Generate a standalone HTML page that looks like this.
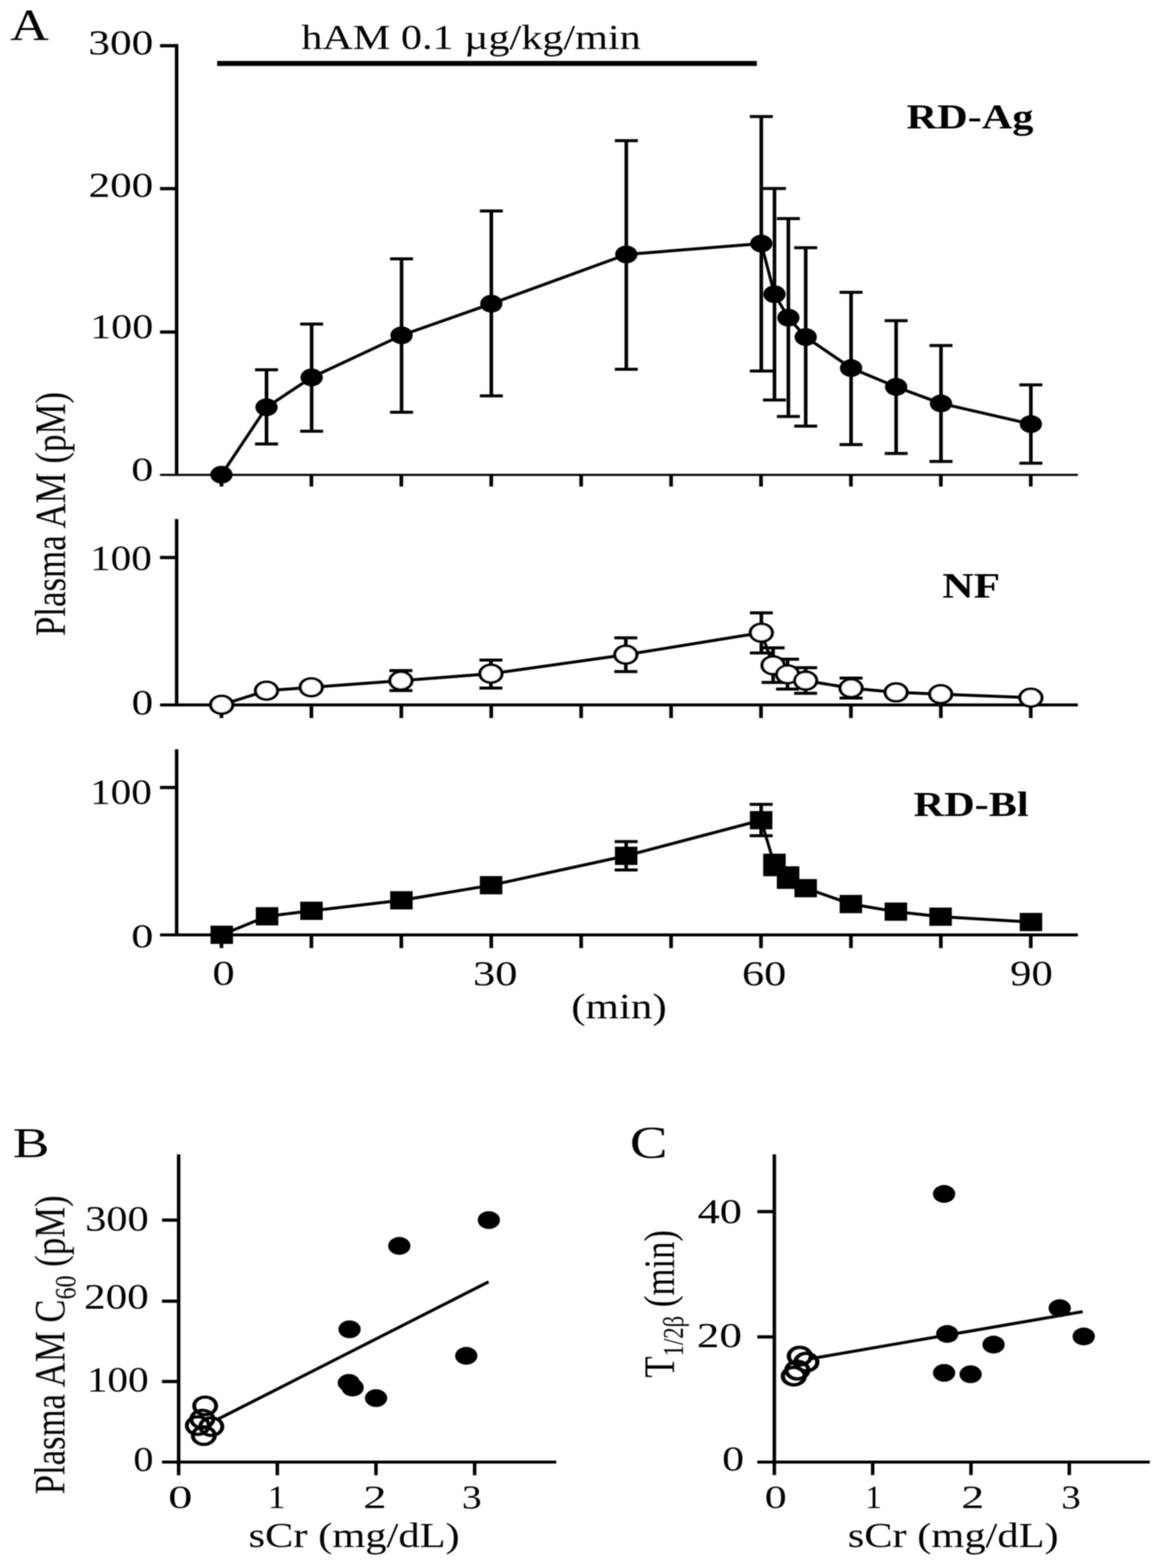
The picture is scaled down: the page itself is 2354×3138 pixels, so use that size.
<!DOCTYPE html>
<html><head><meta charset="utf-8"><title>Figure</title>
<style>
html,body{margin:0;padding:0;background:#fff;}
svg{display:block;}
text{font-family:"Liberation Serif","Times New Roman",serif;fill:#000;}
</style></head><body>
<svg width="2354" height="3138" viewBox="0 0 2354 3138">
<rect width="2354" height="3138" fill="#fff"/>
<defs><filter id="soft" filterUnits="userSpaceOnUse" x="0" y="0" width="2354" height="3138"><feGaussianBlur stdDeviation="1.0"/></filter></defs>
<g filter="url(#soft)">
<g stroke="#000" fill="#000" stroke-linecap="butt">
<line x1="434.7" y1="127.0" x2="1515.0" y2="127.0" stroke-width="10.2"/>
<line x1="353.5" y1="88.3" x2="353.5" y2="950.5" stroke-width="7.0"/>
<line x1="320.3" y1="91.6" x2="353.5" y2="91.6" stroke-width="6.5"/>
<line x1="320.3" y1="377.5" x2="353.5" y2="377.5" stroke-width="6.5"/>
<line x1="320.3" y1="664.6" x2="353.5" y2="664.6" stroke-width="6.5"/>
<line x1="320.3" y1="950.4" x2="2157.6" y2="950.4" stroke-width="4.4"/>
<line x1="443.3" y1="950.5" x2="443.3" y2="973.7" stroke-width="7.3"/>
<line x1="623.3" y1="950.5" x2="623.3" y2="973.7" stroke-width="7.3"/>
<line x1="803.3" y1="950.5" x2="803.3" y2="973.7" stroke-width="7.3"/>
<line x1="983.3" y1="950.5" x2="983.3" y2="973.7" stroke-width="7.3"/>
<line x1="1163.3" y1="950.5" x2="1163.3" y2="973.7" stroke-width="7.3"/>
<line x1="1343.3" y1="950.5" x2="1343.3" y2="973.7" stroke-width="7.3"/>
<line x1="1523.3" y1="950.5" x2="1523.3" y2="973.7" stroke-width="7.3"/>
<line x1="1703.3" y1="950.5" x2="1703.3" y2="973.7" stroke-width="7.3"/>
<line x1="1883.3" y1="950.5" x2="1883.3" y2="973.7" stroke-width="7.3"/>
<line x1="2063.3" y1="950.5" x2="2063.3" y2="973.7" stroke-width="7.3"/>
<line x1="533.5" y1="740.0" x2="533.5" y2="888.4" stroke-width="7.2"/>
<line x1="510.5" y1="740.0" x2="556.5" y2="740.0" stroke-width="6"/>
<line x1="510.5" y1="888.4" x2="556.5" y2="888.4" stroke-width="6"/>
<line x1="623.8" y1="648.4" x2="623.8" y2="863.1" stroke-width="7.2"/>
<line x1="600.8" y1="648.4" x2="646.8" y2="648.4" stroke-width="6"/>
<line x1="600.8" y1="863.1" x2="646.8" y2="863.1" stroke-width="6"/>
<line x1="803.8" y1="518.0" x2="803.8" y2="825.1" stroke-width="7.2"/>
<line x1="780.8" y1="518.0" x2="826.8" y2="518.0" stroke-width="6"/>
<line x1="780.8" y1="825.1" x2="826.8" y2="825.1" stroke-width="6"/>
<line x1="983.5" y1="422.2" x2="983.5" y2="792.2" stroke-width="7.2"/>
<line x1="960.5" y1="422.2" x2="1006.5" y2="422.2" stroke-width="6"/>
<line x1="960.5" y1="792.2" x2="1006.5" y2="792.2" stroke-width="6"/>
<line x1="1253.7" y1="281.4" x2="1253.7" y2="738.9" stroke-width="7.2"/>
<line x1="1230.7" y1="281.4" x2="1276.7" y2="281.4" stroke-width="6"/>
<line x1="1230.7" y1="738.9" x2="1276.7" y2="738.9" stroke-width="6"/>
<line x1="1523.9" y1="233.3" x2="1523.9" y2="742.5" stroke-width="7.2"/>
<line x1="1500.9" y1="233.3" x2="1546.9" y2="233.3" stroke-width="6"/>
<line x1="1500.9" y1="742.5" x2="1546.9" y2="742.5" stroke-width="6"/>
<line x1="1550.3" y1="377.2" x2="1550.3" y2="800.4" stroke-width="7.2"/>
<line x1="1527.3" y1="377.2" x2="1573.3" y2="377.2" stroke-width="6"/>
<line x1="1527.3" y1="800.4" x2="1573.3" y2="800.4" stroke-width="6"/>
<line x1="1578.1" y1="437.6" x2="1578.1" y2="833.6" stroke-width="7.2"/>
<line x1="1555.1" y1="437.6" x2="1601.1" y2="437.6" stroke-width="6"/>
<line x1="1555.1" y1="833.6" x2="1601.1" y2="833.6" stroke-width="6"/>
<line x1="1612.8" y1="495.8" x2="1612.8" y2="852.8" stroke-width="7.2"/>
<line x1="1589.8" y1="495.8" x2="1635.8" y2="495.8" stroke-width="6"/>
<line x1="1589.8" y1="852.8" x2="1635.8" y2="852.8" stroke-width="6"/>
<line x1="1703.6" y1="585.0" x2="1703.6" y2="889.7" stroke-width="7.2"/>
<line x1="1680.6" y1="585.0" x2="1726.6" y2="585.0" stroke-width="6"/>
<line x1="1680.6" y1="889.7" x2="1726.6" y2="889.7" stroke-width="6"/>
<line x1="1793.8" y1="641.7" x2="1793.8" y2="907.5" stroke-width="7.2"/>
<line x1="1770.8" y1="641.7" x2="1816.8" y2="641.7" stroke-width="6"/>
<line x1="1770.8" y1="907.5" x2="1816.8" y2="907.5" stroke-width="6"/>
<line x1="1883.6" y1="691.4" x2="1883.6" y2="923.4" stroke-width="7.2"/>
<line x1="1860.6" y1="691.4" x2="1906.6" y2="691.4" stroke-width="6"/>
<line x1="1860.6" y1="923.4" x2="1906.6" y2="923.4" stroke-width="6"/>
<line x1="2063.5" y1="770.3" x2="2063.5" y2="927.1" stroke-width="7.2"/>
<line x1="2040.5" y1="770.3" x2="2086.5" y2="770.3" stroke-width="6"/>
<line x1="2040.5" y1="927.1" x2="2086.5" y2="927.1" stroke-width="6"/>
<polyline points="443.3,950.0 533.5,815.0 623.8,755.3 803.8,671.1 983.5,607.8 1253.7,509.2 1523.9,487.5 1550.3,588.8 1578.1,635.8 1612.8,674.5 1703.6,736.6 1793.8,774.3 1883.6,807.4 2063.5,848.7" fill="none" stroke-width="6.0" stroke-linejoin="round"/>
<ellipse cx="443.3" cy="950.0" rx="22.3" ry="17.8" stroke="none"/>
<ellipse cx="533.5" cy="815.0" rx="22.3" ry="17.8" stroke="none"/>
<ellipse cx="623.8" cy="755.3" rx="22.3" ry="17.8" stroke="none"/>
<ellipse cx="803.8" cy="671.1" rx="22.3" ry="17.8" stroke="none"/>
<ellipse cx="983.5" cy="607.8" rx="22.3" ry="17.8" stroke="none"/>
<ellipse cx="1253.7" cy="509.2" rx="22.3" ry="17.8" stroke="none"/>
<ellipse cx="1523.9" cy="487.5" rx="22.3" ry="17.8" stroke="none"/>
<ellipse cx="1550.3" cy="588.8" rx="22.3" ry="17.8" stroke="none"/>
<ellipse cx="1578.1" cy="635.8" rx="22.3" ry="17.8" stroke="none"/>
<ellipse cx="1612.8" cy="674.5" rx="22.3" ry="17.8" stroke="none"/>
<ellipse cx="1703.6" cy="736.6" rx="22.3" ry="17.8" stroke="none"/>
<ellipse cx="1793.8" cy="774.3" rx="22.3" ry="17.8" stroke="none"/>
<ellipse cx="1883.6" cy="807.4" rx="22.3" ry="17.8" stroke="none"/>
<ellipse cx="2063.5" cy="848.7" rx="22.3" ry="17.8" stroke="none"/>
<line x1="353.6" y1="1038.7" x2="353.6" y2="1410.7" stroke-width="7.0"/>
<line x1="320.3" y1="1115.7" x2="353.6" y2="1115.7" stroke-width="6.5"/>
<line x1="320.3" y1="1410.7" x2="2157.6" y2="1410.7" stroke-width="6.0"/>
<line x1="443.3" y1="1410.7" x2="443.3" y2="1437.0" stroke-width="7.3"/>
<line x1="623.3" y1="1410.7" x2="623.3" y2="1437.0" stroke-width="7.3"/>
<line x1="803.3" y1="1410.7" x2="803.3" y2="1437.0" stroke-width="7.3"/>
<line x1="983.3" y1="1410.7" x2="983.3" y2="1437.0" stroke-width="7.3"/>
<line x1="1163.3" y1="1410.7" x2="1163.3" y2="1437.0" stroke-width="7.3"/>
<line x1="1343.3" y1="1410.7" x2="1343.3" y2="1437.0" stroke-width="7.3"/>
<line x1="1523.3" y1="1410.7" x2="1523.3" y2="1437.0" stroke-width="7.3"/>
<line x1="1703.3" y1="1410.7" x2="1703.3" y2="1437.0" stroke-width="7.3"/>
<line x1="1883.3" y1="1410.7" x2="1883.3" y2="1437.0" stroke-width="7.3"/>
<line x1="2063.3" y1="1410.7" x2="2063.3" y2="1437.0" stroke-width="7.3"/>
<line x1="802.5" y1="1342.0" x2="802.5" y2="1382.0" stroke-width="7.2"/>
<line x1="779.5" y1="1342.0" x2="825.5" y2="1342.0" stroke-width="6"/>
<line x1="779.5" y1="1382.0" x2="825.5" y2="1382.0" stroke-width="6"/>
<line x1="982.7" y1="1320.9" x2="982.7" y2="1377.0" stroke-width="7.2"/>
<line x1="959.7" y1="1320.9" x2="1005.7" y2="1320.9" stroke-width="6"/>
<line x1="959.7" y1="1377.0" x2="1005.7" y2="1377.0" stroke-width="6"/>
<line x1="1252.7" y1="1276.6" x2="1252.7" y2="1344.1" stroke-width="7.2"/>
<line x1="1229.7" y1="1276.6" x2="1275.7" y2="1276.6" stroke-width="6"/>
<line x1="1229.7" y1="1344.1" x2="1275.7" y2="1344.1" stroke-width="6"/>
<line x1="1524.0" y1="1226.5" x2="1524.0" y2="1306.7" stroke-width="7.2"/>
<line x1="1501.0" y1="1226.5" x2="1547.0" y2="1226.5" stroke-width="6"/>
<line x1="1501.0" y1="1306.7" x2="1547.0" y2="1306.7" stroke-width="6"/>
<line x1="1547.5" y1="1296.4" x2="1547.5" y2="1365.8" stroke-width="7.2"/>
<line x1="1524.5" y1="1296.4" x2="1570.5" y2="1296.4" stroke-width="6"/>
<line x1="1524.5" y1="1365.8" x2="1570.5" y2="1365.8" stroke-width="6"/>
<line x1="1576.4" y1="1319.3" x2="1576.4" y2="1379.0" stroke-width="7.2"/>
<line x1="1553.4" y1="1319.3" x2="1599.4" y2="1319.3" stroke-width="6"/>
<line x1="1553.4" y1="1379.0" x2="1599.4" y2="1379.0" stroke-width="6"/>
<line x1="1612.6" y1="1336.2" x2="1612.6" y2="1387.5" stroke-width="7.2"/>
<line x1="1589.6" y1="1336.2" x2="1635.6" y2="1336.2" stroke-width="6"/>
<line x1="1589.6" y1="1387.5" x2="1635.6" y2="1387.5" stroke-width="6"/>
<line x1="1703.6" y1="1357.0" x2="1703.6" y2="1397.1" stroke-width="7.2"/>
<line x1="1680.6" y1="1357.0" x2="1726.6" y2="1357.0" stroke-width="6"/>
<line x1="1680.6" y1="1397.1" x2="1726.6" y2="1397.1" stroke-width="6"/>
<polyline points="443.7,1410.5 533.4,1382.3 623.0,1375.4 802.5,1362.2 982.7,1348.3 1252.7,1310.3 1524.0,1266.3 1547.5,1331.4 1576.4,1349.5 1612.6,1362.1 1703.6,1377.2 1793.8,1385.6 1883.0,1389.2 2063.5,1396.2" fill="none" stroke-width="6.0" stroke-linejoin="round"/>
<ellipse transform="translate(443.7,1410.5) scale(1.25,1)" rx="17.6" ry="17.6" fill="#fff" stroke-width="5.3"/>
<ellipse transform="translate(533.4,1382.3) scale(1.25,1)" rx="17.6" ry="17.6" fill="#fff" stroke-width="5.3"/>
<ellipse transform="translate(623.0,1375.4) scale(1.25,1)" rx="17.6" ry="17.6" fill="#fff" stroke-width="5.3"/>
<ellipse transform="translate(802.5,1362.2) scale(1.25,1)" rx="17.6" ry="17.6" fill="#fff" stroke-width="5.3"/>
<ellipse transform="translate(982.7,1348.3) scale(1.25,1)" rx="17.6" ry="17.6" fill="#fff" stroke-width="5.3"/>
<ellipse transform="translate(1252.7,1310.3) scale(1.25,1)" rx="17.6" ry="17.6" fill="#fff" stroke-width="5.3"/>
<ellipse transform="translate(1524.0,1266.3) scale(1.25,1)" rx="17.6" ry="17.6" fill="#fff" stroke-width="5.3"/>
<ellipse transform="translate(1547.5,1331.4) scale(1.25,1)" rx="17.6" ry="17.6" fill="#fff" stroke-width="5.3"/>
<ellipse transform="translate(1576.4,1349.5) scale(1.25,1)" rx="17.6" ry="17.6" fill="#fff" stroke-width="5.3"/>
<ellipse transform="translate(1612.6,1362.1) scale(1.25,1)" rx="17.6" ry="17.6" fill="#fff" stroke-width="5.3"/>
<ellipse transform="translate(1703.6,1377.2) scale(1.25,1)" rx="17.6" ry="17.6" fill="#fff" stroke-width="5.3"/>
<ellipse transform="translate(1793.8,1385.6) scale(1.25,1)" rx="17.6" ry="17.6" fill="#fff" stroke-width="5.3"/>
<ellipse transform="translate(1883.0,1389.2) scale(1.25,1)" rx="17.6" ry="17.6" fill="#fff" stroke-width="5.3"/>
<ellipse transform="translate(2063.5,1396.2) scale(1.25,1)" rx="17.6" ry="17.6" fill="#fff" stroke-width="5.3"/>
<line x1="353.6" y1="1499.5" x2="353.6" y2="1871.0" stroke-width="7.0"/>
<line x1="320.3" y1="1575.9" x2="353.6" y2="1575.9" stroke-width="6.5"/>
<line x1="320.3" y1="1871.0" x2="2157.6" y2="1871.0" stroke-width="6.0"/>
<line x1="443.3" y1="1871.0" x2="443.3" y2="1897.4" stroke-width="7.3"/>
<line x1="623.3" y1="1871.0" x2="623.3" y2="1897.4" stroke-width="7.3"/>
<line x1="803.3" y1="1871.0" x2="803.3" y2="1897.4" stroke-width="7.3"/>
<line x1="983.3" y1="1871.0" x2="983.3" y2="1897.4" stroke-width="7.3"/>
<line x1="1163.3" y1="1871.0" x2="1163.3" y2="1897.4" stroke-width="7.3"/>
<line x1="1343.3" y1="1871.0" x2="1343.3" y2="1897.4" stroke-width="7.3"/>
<line x1="1523.3" y1="1871.0" x2="1523.3" y2="1897.4" stroke-width="7.3"/>
<line x1="1703.3" y1="1871.0" x2="1703.3" y2="1897.4" stroke-width="7.3"/>
<line x1="1883.3" y1="1871.0" x2="1883.3" y2="1897.4" stroke-width="7.3"/>
<line x1="2063.3" y1="1871.0" x2="2063.3" y2="1897.4" stroke-width="7.3"/>
<line x1="1253.4" y1="1684.2" x2="1253.4" y2="1741.1" stroke-width="7.2"/>
<line x1="1230.4" y1="1684.2" x2="1276.4" y2="1684.2" stroke-width="6"/>
<line x1="1230.4" y1="1741.1" x2="1276.4" y2="1741.1" stroke-width="6"/>
<line x1="1523.6" y1="1609.8" x2="1523.6" y2="1672.6" stroke-width="7.2"/>
<line x1="1500.6" y1="1609.8" x2="1546.6" y2="1609.8" stroke-width="6"/>
<line x1="1500.6" y1="1672.6" x2="1546.6" y2="1672.6" stroke-width="6"/>
<polyline points="443.9,1870.8 534.6,1833.7 623.5,1822.8 803.5,1801.7 983.0,1771.6 1253.4,1712.7 1523.6,1641.5 1550.2,1731.0 1577.5,1756.3 1612.7,1777.5 1703.2,1809.2 1793.3,1824.4 1882.8,1834.6 2063.7,1845.2" fill="none" stroke-width="6.0" stroke-linejoin="round"/>
<rect x="421.4" y="1852.5" width="45" height="36.5" stroke="none"/>
<rect x="512.1" y="1815.5" width="45" height="36.5" stroke="none"/>
<rect x="601.0" y="1804.5" width="45" height="36.5" stroke="none"/>
<rect x="781.0" y="1783.5" width="45" height="36.5" stroke="none"/>
<rect x="960.5" y="1753.3" width="45" height="36.5" stroke="none"/>
<rect x="1230.9" y="1694.5" width="45" height="36.5" stroke="none"/>
<rect x="1501.1" y="1623.2" width="45" height="36.5" stroke="none"/>
<rect x="1527.7" y="1708.4" width="45" height="45.2" stroke="none"/>
<rect x="1555.0" y="1733.7" width="45" height="45.2" stroke="none"/>
<rect x="1590.2" y="1759.2" width="45" height="36.5" stroke="none"/>
<rect x="1680.7" y="1791.0" width="45" height="36.5" stroke="none"/>
<rect x="1770.8" y="1806.2" width="45" height="36.5" stroke="none"/>
<rect x="1860.3" y="1816.3" width="45" height="36.5" stroke="none"/>
<rect x="2041.2" y="1827.0" width="45" height="36.5" stroke="none"/>
<line x1="357.6" y1="2310.2" x2="357.6" y2="2952.5" stroke-width="7.0"/>
<line x1="324.3" y1="2441.7" x2="357.6" y2="2441.7" stroke-width="6.5"/>
<line x1="324.3" y1="2603.9" x2="357.6" y2="2603.9" stroke-width="6.5"/>
<line x1="324.3" y1="2764.7" x2="357.6" y2="2764.7" stroke-width="6.5"/>
<line x1="324.3" y1="2926.0" x2="1113.4" y2="2926.0" stroke-width="6.0"/>
<line x1="555.1" y1="2926.0" x2="555.1" y2="2952.5" stroke-width="7.0"/>
<line x1="752.6" y1="2926.0" x2="752.6" y2="2952.5" stroke-width="7.0"/>
<line x1="950.1" y1="2926.0" x2="950.1" y2="2952.5" stroke-width="7.0"/>
<line x1="434.0" y1="2841.3" x2="978.0" y2="2565.3" stroke-width="6.0"/>
<ellipse cx="978.5" cy="2441.7" rx="22.3" ry="17.8" stroke="none"/>
<ellipse cx="799.3" cy="2493.4" rx="22.3" ry="17.8" stroke="none"/>
<ellipse cx="699.7" cy="2660.3" rx="22.3" ry="17.8" stroke="none"/>
<ellipse cx="933.3" cy="2713.4" rx="22.3" ry="17.8" stroke="none"/>
<ellipse cx="698.3" cy="2767.5" rx="22.3" ry="17.8" stroke="none"/>
<ellipse cx="705.8" cy="2776.9" rx="22.3" ry="17.8" stroke="none"/>
<ellipse cx="752.8" cy="2798.0" rx="22.3" ry="17.8" stroke="none"/>
<ellipse transform="translate(410.7,2813.5) scale(1.25,1)" rx="17.6" ry="17.6" fill="none" stroke-width="6.3"/>
<ellipse transform="translate(405.0,2840.0) scale(1.25,1)" rx="17.6" ry="17.6" fill="none" stroke-width="6.3"/>
<ellipse transform="translate(396.0,2853.0) scale(1.25,1)" rx="17.6" ry="17.6" fill="none" stroke-width="6.3"/>
<ellipse transform="translate(423.0,2855.0) scale(1.25,1)" rx="17.6" ry="17.6" fill="none" stroke-width="6.3"/>
<ellipse transform="translate(408.0,2873.0) scale(1.25,1)" rx="17.6" ry="17.6" fill="none" stroke-width="6.3"/>
<line x1="1550.0" y1="2310.2" x2="1550.0" y2="2952.0" stroke-width="7.0"/>
<line x1="1516.0" y1="2424.8" x2="1550.0" y2="2424.8" stroke-width="6.5"/>
<line x1="1516.0" y1="2675.5" x2="1550.0" y2="2675.5" stroke-width="6.5"/>
<line x1="1516.0" y1="2926.0" x2="2301.6" y2="2926.0" stroke-width="6.0"/>
<line x1="1746.8" y1="2926.0" x2="1746.8" y2="2952.0" stroke-width="7.0"/>
<line x1="1943.6" y1="2926.0" x2="1943.6" y2="2952.0" stroke-width="7.0"/>
<line x1="2140.4" y1="2926.0" x2="2140.4" y2="2952.0" stroke-width="7.0"/>
<line x1="1622.3" y1="2719.2" x2="2167.2" y2="2625.0" stroke-width="6.0"/>
<ellipse cx="1889.8" cy="2389.4" rx="22.3" ry="17.8" stroke="none"/>
<ellipse cx="2121.2" cy="2618.0" rx="22.3" ry="17.8" stroke="none"/>
<ellipse cx="1896.1" cy="2669.6" rx="22.3" ry="17.8" stroke="none"/>
<ellipse cx="2169.3" cy="2674.6" rx="22.3" ry="17.8" stroke="none"/>
<ellipse cx="1988.8" cy="2690.9" rx="22.3" ry="17.8" stroke="none"/>
<ellipse cx="1889.8" cy="2747.5" rx="22.3" ry="17.8" stroke="none"/>
<ellipse cx="1942.9" cy="2750.3" rx="22.3" ry="17.8" stroke="none"/>
<ellipse transform="translate(1601.0,2714.0) scale(1.25,1)" rx="17.6" ry="17.6" fill="none" stroke-width="6.8"/>
<ellipse transform="translate(1614.0,2726.0) scale(1.25,1)" rx="17.6" ry="17.6" fill="none" stroke-width="6.8"/>
<ellipse transform="translate(1596.0,2742.0) scale(1.25,1)" rx="17.6" ry="17.6" fill="none" stroke-width="6.8"/>
<ellipse transform="translate(1589.0,2754.0) scale(1.25,1)" rx="17.6" ry="17.6" fill="none" stroke-width="6.8"/>
</g>
<g>
<text transform="translate(20.43,79.30) scale(1.2124,1)" font-size="88.33">A</text>
<text transform="translate(176.84,109.09) scale(1.2234,1)" font-size="70.81">300</text>
<text transform="translate(177.20,393.91) scale(1.2513,1)" font-size="69.04">200</text>
<text transform="translate(180.60,677.11) scale(1.2124,1)" font-size="69.33">100</text>
<text transform="translate(262.64,961.83) scale(1.3267,1)" font-size="66.67">0</text>
<text transform="translate(603.16,98.2) scale(1.2057,1)" font-size="70.03">hAM 0.1 µg/kg/min</text>
<text transform="translate(1814.56,256.60) scale(1.2215,1)" font-size="69.39" font-weight="bold">RD-Ag</text>
<text transform="translate(180.35,1140.89) scale(1.1538,1)" font-size="71.41">100</text>
<text transform="translate(263.53,1429.78) scale(1.2030,1)" font-size="71.56">0</text>
<text transform="translate(1886.35,1196.10) scale(1.1931,1)" font-size="72.82" font-weight="bold">NF</text>
<text transform="translate(180.35,1608.59) scale(1.1538,1)" font-size="71.41">100</text>
<text transform="translate(262.64,1895.73) scale(1.3150,1)" font-size="67.26">0</text>
<text transform="translate(1828.86,1632.69) scale(1.2168,1)" font-size="69.47" font-weight="bold">RD-Bl</text>
<text transform="translate(425.21,1970.90) scale(1.2776,1)" font-size="69.78">0</text>
<text transform="translate(946.72,1971.61) scale(1.2861,1)" font-size="69.33">30</text>
<text transform="translate(1485.19,1971.61) scale(1.2791,1)" font-size="69.33">60</text>
<text transform="translate(2022.07,1972.29) scale(1.1976,1)" font-size="71.11">90</text>
<text transform="translate(1143.41,2038.43) scale(1.2080,1)" font-size="71.22">(min)</text>
<text transform="translate(25.60,2315.74) scale(1.2878,1)" font-size="85.56">B</text>
<text transform="translate(170.43,2463.48) scale(1.1787,1)" font-size="72.00">300</text>
<text transform="translate(168.20,2619.28) scale(1.1949,1)" font-size="72.30">200</text>
<text transform="translate(173.73,2785.29) scale(1.1568,1)" font-size="71.41">100</text>
<text transform="translate(266.95,2943.50) scale(1.1395,1)" font-size="70.37">0</text>
<text transform="translate(336.63,3017.94) scale(1.4734,1)" font-size="65.63">0</text>
<text transform="translate(536.05,3017.60) scale(1.0826,1)" font-size="65.61">1</text>
<text transform="translate(726.89,3017.60) scale(1.4297,1)" font-size="65.41">2</text>
<text transform="translate(924.39,3018.73) scale(1.1834,1)" font-size="67.11">3</text>
<text transform="translate(497.51,3095.57) scale(1.2303,1)" font-size="69.12">sCr (mg/dL)</text>
<text transform="translate(1260.85,2317.30) scale(1.2544,1)" font-size="90.33">C</text>
<text transform="translate(1396.43,2448.31) scale(1.2910,1)" font-size="68.74">40</text>
<text transform="translate(1394.82,2695.70) scale(1.2957,1)" font-size="69.78">20</text>
<text transform="translate(1445.46,2942.70) scale(1.2581,1)" font-size="69.93">0</text>
<text transform="translate(1530.86,3018.34) scale(1.3284,1)" font-size="66.22">0</text>
<text transform="translate(1732.25,3017.60) scale(0.9937,1)" font-size="65.76">1</text>
<text transform="translate(1924.36,3017.60) scale(1.3998,1)" font-size="65.56">2</text>
<text transform="translate(2124.25,3019.22) scale(1.1500,1)" font-size="68.01">3</text>
<text transform="translate(1696.92,3095.57) scale(1.2286,1)" font-size="69.12">sCr (mg/dL)</text>
<text transform="translate(129.79,1272.92) scale(1.2381,1) rotate(-90)" font-size="69.81">Plasma AM (pM)</text>
<text id="lb" transform="translate(128.7,2990.5) scale(1.24,1) rotate(-90)" font-size="69.5">Plasma AM C<tspan font-size="48" dy="17.5">60</tspan><tspan dy="-17.5"> (pM)</tspan></text>
<text id="lc" transform="translate(1349.2,2757) scale(1.24,1) rotate(-90)" font-size="69.5">T<tspan font-size="45.5" dy="14">1/2β</tspan><tspan dy="-14"> (min)</tspan></text>
</g>
</g>
</svg>
</body></html>
